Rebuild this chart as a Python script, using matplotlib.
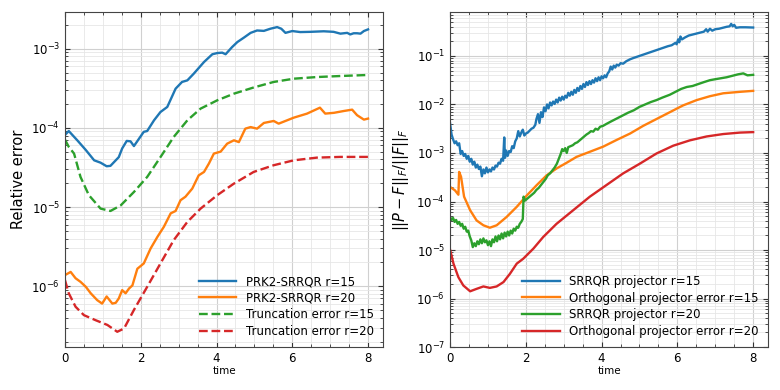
import numpy as np
import matplotlib.pyplot as plt
from matplotlib.ticker import LogLocator, NullFormatter

# =============================================================================
# Data (stored as log10 of the error)
# =============================================================================
# --- left panel: relative error ---
t_prk2_r15 = [0.0, 0.1, 0.33, 0.55, 0.77, 0.94, 1.1, 1.2, 1.42, 1.51, 1.63, 1.73,
              1.82, 1.95, 2.08, 2.17, 2.35, 2.52, 2.7, 2.92, 3.09, 3.23, 3.4, 3.67,
              3.89, 4.02, 4.15, 4.24, 4.41, 4.55, 4.72, 4.9, 5.07, 5.25, 5.42, 5.6,
              5.71, 5.82, 6.0, 6.21, 6.48, 6.83, 7.09, 7.27, 7.45, 7.53, 7.62, 7.71,
              7.8, 7.89, 8.0]
log_prk2_r15 = [-4.09, -4.04, -4.16, -4.28, -4.41, -4.44, -4.485, -4.48, -4.37, -4.26,
                -4.165, -4.17, -4.23, -4.14, -4.05, -4.04, -3.905, -3.80, -3.736, -3.505,
                -3.42, -3.40, -3.315, -3.168, -3.07, -3.055, -3.05, -3.07, -2.98, -2.916,
                -2.861, -2.80, -2.77, -2.775, -2.748, -2.727, -2.748, -2.80, -2.777,
                -2.79, -2.787, -2.78, -2.787, -2.81, -2.80, -2.82, -2.805, -2.805,
                -2.81, -2.777, -2.756]

t_prk2_r20 = [0.0, 0.15, 0.28, 0.41, 0.55, 0.68, 0.85, 0.98, 1.1, 1.25, 1.34, 1.42,
              1.51, 1.6, 1.69, 1.78, 1.91, 2.08, 2.26, 2.44, 2.61, 2.79, 2.92, 3.05,
              3.18, 3.36, 3.53, 3.67, 3.8, 3.93, 4.11, 4.28, 4.46, 4.59, 4.76, 4.9,
              5.07, 5.25, 5.51, 5.64, 6.04, 6.39, 6.73, 6.87, 7.1, 7.36, 7.58, 7.71,
              7.89, 8.0]
log_prk2_r20 = [-5.86, -5.82, -5.90, -5.945, -6.008, -6.09, -6.176, -6.22, -6.13, -6.22,
                -6.21, -6.155, -6.05, -6.09, -6.03, -5.99, -5.78, -5.713, -5.524, -5.377,
                -5.25, -5.08, -5.05, -4.914, -4.87, -4.767, -4.60, -4.557, -4.45, -4.325,
                -4.30, -4.20, -4.157, -4.18, -4.01, -3.99, -4.01, -3.938, -3.913, -3.947,
                -3.871, -3.82, -3.745, -3.82, -3.81, -3.787, -3.77, -3.84, -3.896,
                -3.883]

t_trunc = [0.0, 0.1, 0.24, 0.41, 0.63, 0.94, 1.2, 1.47, 1.82, 2.17, 2.52, 2.87,
           3.23, 3.58, 4.02, 4.46, 4.98, 5.51, 6.04, 6.65, 7.27, 8.0]
log_trunc_r15 = [-4.149, -4.24, -4.325, -4.62, -4.85, -5.02, -5.05, -4.98, -4.81,
                 -4.62, -4.37, -4.115, -3.905, -3.757, -3.652, -3.568, -3.49, -3.42,
                 -3.379, -3.358, -3.345, -3.332]
t_trunc_r20 = [0.0, 0.1, 0.28, 0.5, 0.81, 1.12, 1.38, 1.56, 1.82, 2.17, 2.52, 2.87,
               3.23, 3.58, 4.02, 4.46, 4.98, 5.51, 6.04, 6.65, 7.27, 8.0]
log_trunc_r20 = [-5.924, -6.09, -6.26, -6.366, -6.43, -6.49, -6.576, -6.534, -6.30,
                 -6.008, -5.713, -5.419, -5.188, -5.02, -4.85, -4.704, -4.557, -4.472,
                 -4.41, -4.376, -4.367, -4.367]

# --- right panel: projector error ---
t_srrqr_r15 = [0.00, 0.04, 0.08, 0.12, 0.16, 0.20, 0.24, 0.28, 0.32, 0.36, 0.40, 0.44,
               0.48, 0.52, 0.56, 0.60, 0.64, 0.68, 0.72, 0.76, 0.80, 0.84, 0.88, 0.92,
               0.96, 1.00, 1.04, 1.08, 1.12, 1.16, 1.20, 1.24, 1.28, 1.32, 1.36, 1.40,
               1.43, 1.45, 1.48, 1.52, 1.56, 1.60, 1.64, 1.68, 1.72, 1.76, 1.80, 1.84,
               1.88, 1.92, 1.96, 2.00, 2.05, 2.10, 2.15, 2.20, 2.25, 2.28, 2.32, 2.36,
               2.40, 2.44, 2.48, 2.52, 2.56, 2.60, 2.64, 2.68, 2.72, 2.76, 2.80, 2.84,
               2.88, 2.92, 2.96, 3.00, 3.04, 3.08, 3.12, 3.16, 3.20, 3.24, 3.28, 3.32,
               3.36, 3.40, 3.44, 3.48, 3.52, 3.56, 3.60, 3.64, 3.68, 3.72, 3.76, 3.80,
               3.84, 3.88, 3.92, 3.96, 4.00, 4.04, 4.08, 4.12, 4.16, 4.20, 4.24, 4.28,
               4.32, 4.36, 4.40, 4.45, 4.50, 4.57, 4.65, 4.75, 4.85, 5.00, 5.15, 5.30,
               5.45, 5.60, 5.75, 5.85, 5.95, 5.98, 6.02, 6.05, 6.08, 6.12, 6.20, 6.30,
               6.40, 6.50, 6.60, 6.70, 6.76, 6.80, 6.86, 6.92, 7.00, 7.10, 7.20, 7.30,
               7.38, 7.42, 7.46, 7.50, 7.55, 7.65, 7.80, 8.00]
log_srrqr_r15 = [-2.39, -2.62, -2.72, -2.80, -2.76, -2.84, -2.80, -3.02, -2.96, -3.06,
                 -3.02, -3.12, -3.06, -3.18, -3.12, -3.24, -3.18, -3.30, -3.24, -3.33,
                 -3.28, -3.48, -3.34, -3.42, -3.30, -3.40, -3.34, -3.38, -3.30, -3.34,
                 -3.26, -3.28, -3.20, -3.22, -3.12, -3.16, -2.68, -3.10, -2.95, -3.06,
                 -2.96, -2.98, -2.86, -2.90, -2.76, -2.70, -2.55, -2.66, -2.58, -2.52,
                 -2.64, -2.60, -2.58, -2.54, -2.50, -2.48, -2.42, -2.30, -2.20, -2.38,
                 -2.16, -2.26, -2.06, -2.14, -2.00, -2.08, -1.96, -2.02, -1.94, -1.99,
                 -1.90, -1.96, -1.86, -1.92, -1.84, -1.90, -1.82, -1.86, -1.76, -1.82,
                 -1.74, -1.80, -1.70, -1.76, -1.66, -1.72, -1.62, -1.68, -1.58, -1.64,
                 -1.54, -1.60, -1.52, -1.58, -1.50, -1.55, -1.46, -1.52, -1.44, -1.50,
                 -1.42, -1.46, -1.40, -1.44, -1.36, -1.32, -1.22, -1.28, -1.20, -1.24,
                 -1.18, -1.20, -1.15, -1.16, -1.11, -1.07, -1.04, -1.00, -0.96, -0.92,
                 -0.88, -0.84, -0.80, -0.78, -0.73, -0.76, -0.66, -0.72, -0.60, -0.66,
                 -0.62, -0.58, -0.56, -0.54, -0.52, -0.50, -0.45, -0.50, -0.44, -0.48,
                 -0.45, -0.44, -0.42, -0.40, -0.39, -0.34, -0.39, -0.36, -0.42, -0.41,
                 -0.41, -0.415]

t_ortho_r15 = [0.0, 0.13, 0.22, 0.24, 0.29, 0.37, 0.53, 0.7, 0.88, 1.05, 1.23, 1.49,
               1.76, 2.02, 2.29, 2.55, 2.81, 3.08, 3.34, 3.69, 4.04, 4.4, 4.75, 5.1,
               5.45, 5.8, 6.15, 6.51, 6.86, 7.21, 7.65, 8.0]
log_ortho_r15 = [-3.70, -3.77, -3.86, -3.39, -3.49, -3.90, -4.18, -4.39, -4.49, -4.54,
                 -4.49, -4.32, -4.11, -3.88, -3.66, -3.46, -3.32, -3.20, -3.08, -2.975,
                 -2.87, -2.73, -2.60, -2.44, -2.30, -2.16, -2.02, -1.91, -1.83, -1.77,
                 -1.74, -1.72]

t_srrqr_r20 = [0.00, 0.04, 0.08, 0.12, 0.16, 0.20, 0.24, 0.28, 0.32, 0.36, 0.40, 0.44,
               0.48, 0.52, 0.56, 0.60, 0.64, 0.68, 0.72, 0.76, 0.80, 0.84, 0.88, 0.92,
               0.96, 1.00, 1.04, 1.08, 1.12, 1.16, 1.20, 1.24, 1.28, 1.32, 1.36, 1.40,
               1.44, 1.48, 1.52, 1.56, 1.60, 1.64, 1.68, 1.72, 1.76, 1.80, 1.84, 1.88,
               1.92, 1.94, 1.98, 2.04, 2.10, 2.16, 2.22, 2.28, 2.34, 2.40, 2.46, 2.52,
               2.58, 2.64, 2.70, 2.76, 2.82, 2.88, 2.92, 2.96, 3.00, 3.04, 3.08, 3.12,
               3.18, 3.24, 3.30, 3.36, 3.42, 3.48, 3.54, 3.60, 3.66, 3.72, 3.78, 3.84,
               3.90, 3.96, 4.04, 4.13, 4.25, 4.40, 4.55, 4.70, 4.85, 5.00, 5.15, 5.30,
               5.45, 5.60, 5.80, 5.95, 6.10, 6.25, 6.40, 6.55, 6.70, 6.86, 7.00, 7.15,
               7.30, 7.45, 7.60, 7.74, 7.85, 8.00]
log_srrqr_r20 = [-4.32, -4.38, -4.34, -4.42, -4.38, -4.46, -4.42, -4.50, -4.46, -4.56,
                 -4.52, -4.62, -4.60, -4.72, -4.80, -4.94, -4.86, -4.92, -4.82, -4.88,
                 -4.78, -4.86, -4.76, -4.84, -4.80, -4.90, -4.82, -4.92, -4.78, -4.84,
                 -4.72, -4.82, -4.70, -4.78, -4.66, -4.76, -4.64, -4.72, -4.62, -4.70,
                 -4.60, -4.66, -4.56, -4.60, -4.52, -4.54, -4.46, -4.42, -4.36, -3.90,
                 -3.98, -3.94, -3.90, -3.86, -3.82, -3.76, -3.72, -3.66, -3.60, -3.54,
                 -3.46, -3.42, -3.36, -3.30, -3.22, -3.10, -3.02, -2.92, -2.96, -2.90,
                 -3.00, -2.88, -2.86, -2.84, -2.80, -2.78, -2.74, -2.70, -2.66, -2.62,
                 -2.59, -2.55, -2.56, -2.50, -2.52, -2.46, -2.44, -2.40, -2.35, -2.29,
                 -2.23, -2.17, -2.12, -2.05, -2.00, -1.95, -1.91, -1.86, -1.80, -1.74,
                 -1.68, -1.64, -1.62, -1.58, -1.54, -1.50, -1.48, -1.46, -1.44, -1.41,
                 -1.38, -1.36, -1.40, -1.39]

t_ortho_r20 = [0.0, 0.09, 0.22, 0.35, 0.53, 0.7, 0.88, 1.05, 1.23, 1.41, 1.58, 1.76,
               1.93, 2.2, 2.46, 2.81, 3.25, 3.69, 4.13, 4.57, 5.01, 5.45, 5.89, 6.33,
               6.77, 7.21, 7.65, 8.0]
log_ortho_r20 = [-4.99, -5.28, -5.56, -5.73, -5.85, -5.80, -5.75, -5.78, -5.75, -5.66,
                 -5.49, -5.28, -5.18, -4.97, -4.73, -4.46, -4.18, -3.90, -3.66, -3.42,
                 -3.22, -3.01, -2.85, -2.74, -2.66, -2.61, -2.58, -2.57]

C_BLUE, C_ORANGE, C_GREEN, C_RED = "#1f77b4", "#ff7f0e", "#2ca02c", "#d62728"


# =============================================================================
# Helpers
# =============================================================================
def style_axis(ax):
    """Log y axis, inward ticks on every side, light major+minor grid."""
    ax.set_yscale("log")
    ax.minorticks_on()
    ax.yaxis.set_major_locator(LogLocator(base=10, numticks=100))
    ax.yaxis.set_minor_locator(LogLocator(base=10, subs=np.arange(2, 10), numticks=100))
    ax.yaxis.set_minor_formatter(NullFormatter())
    ax.tick_params(which="both", direction="in", top=True, right=True,
                   labelsize=8.5, color="#333333")
    ax.tick_params(which="major", length=3.5, width=0.8)
    ax.tick_params(which="minor", length=2, width=0.6)
    ax.grid(True, which="major", color="#d0d0d0", linewidth=0.8)
    ax.grid(True, which="minor", color="#e6e6e6", linewidth=0.6)
    ax.set_axisbelow(True)
    for s in ax.spines.values():
        s.set_color("#444444")
    ax.set_xlim(0, 8.4)
    ax.set_xlabel("time", fontsize=7.5, labelpad=1)


# =============================================================================
# Figure
# =============================================================================
fig = plt.figure(figsize=(7.8, 3.9), dpi=100)
ax1 = fig.add_axes([0.0833, 0.110, 0.408, 0.859])
ax2 = fig.add_axes([0.577, 0.110, 0.408, 0.859])

lw = 1.7
ax1.plot(t_prk2_r15, 10 ** np.array(log_prk2_r15), color=C_BLUE, lw=lw, label="PRK2-SRRQR r=15")
ax1.plot(t_prk2_r20, 10 ** np.array(log_prk2_r20), color=C_ORANGE, lw=lw, label="PRK2-SRRQR r=20")
ax1.plot(t_trunc, 10 ** np.array(log_trunc_r15), "--", color=C_GREEN, lw=lw, label="Truncation error r=15")
ax1.plot(t_trunc_r20, 10 ** np.array(log_trunc_r20), "--", color=C_RED, lw=lw, label="Truncation error r=20")
style_axis(ax1)
ax1.set_ylim(1.7e-7, 2.9e-3)
ax1.set_ylabel("Relative error", fontsize=10.5)
ax1.legend(loc="lower right", frameon=False, fontsize=8.5, handlelength=3.2,
           borderaxespad=0.4, labelspacing=0.3)

ax2.plot(t_srrqr_r15, 10 ** np.array(log_srrqr_r15), color=C_BLUE, lw=lw, label="SRRQR projector r=15")
ax2.plot(t_ortho_r15, 10 ** np.array(log_ortho_r15), color=C_ORANGE, lw=lw, label="Orthogonal projector error r=15")
ax2.plot(t_srrqr_r20, 10 ** np.array(log_srrqr_r20), color=C_GREEN, lw=lw, label="SRRQR projector r=20")
ax2.plot(t_ortho_r20, 10 ** np.array(log_ortho_r20), color=C_RED, lw=lw, label="Orthogonal projector error r=20")
style_axis(ax2)
ax2.set_ylim(1e-7, 0.8)
ax2.set_ylabel(r"$||P - F||_F/||F||_F$", fontsize=10.5)
ax2.legend(loc="lower right", frameon=False, fontsize=8.5, handlelength=3.2,
           borderaxespad=0.4, labelspacing=0.3)

fig.savefig("out.png", dpi=100)
